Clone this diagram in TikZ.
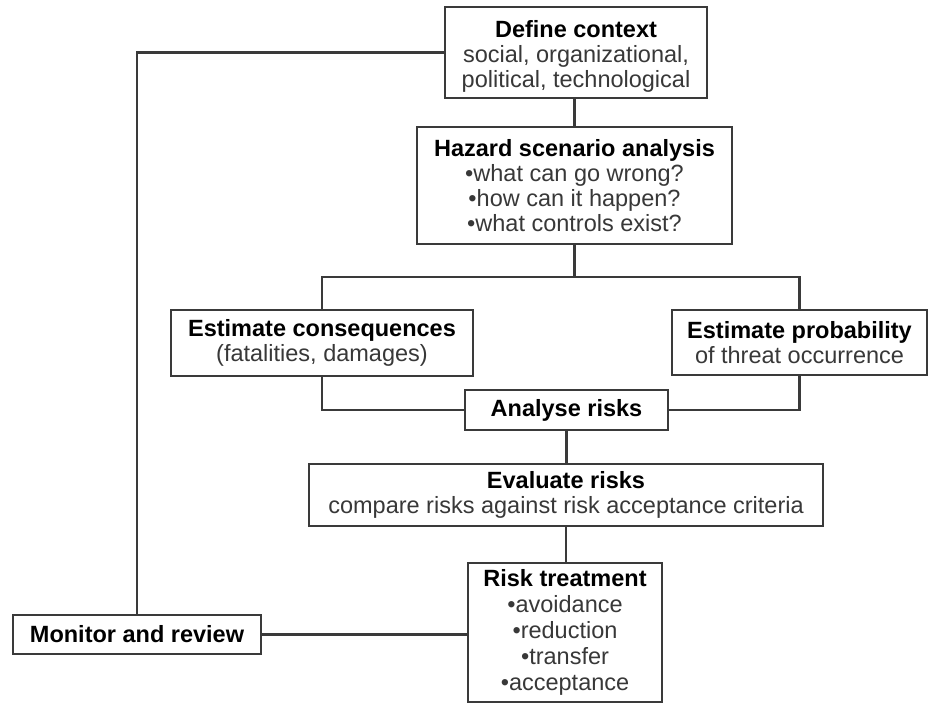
\documentclass[tikz,border=0pt]{standalone}
\usepackage{fontspec}
\setmainfont{Liberation Sans}
\definecolor{linecol}{HTML}{3A3A3A}
\definecolor{bodycol}{HTML}{383838}
\newcommand{\ttl}[1]{{\bfseries\color{black}#1}}
\begin{document}
\begin{tikzpicture}[x=1pt,y=-1pt,
  box/.style={draw=linecol, line width=2.1pt, fill=white, align=center, inner sep=0pt,
    font=\fontsize{23.5}{25}\selectfont, text=bodycol},
  conn/.style={draw=linecol, line width=2.1pt}]
\useasboundingbox (0,0) rectangle (936,704);
\fill[white] (0,0) rectangle (936,704);

\node[box, minimum width=262, minimum height=91] (dc) at (576,52.5)
  {\raisebox{-5pt}[\height][\depth]{\begin{tabular}{@{}c@{}}\ttl{Define context}\\social, organizational,\\political, technological\end{tabular}}};
\node[box, minimum width=315, minimum height=117] (hz) at (574.5,185.5)
  {\ttl{Hazard scenario analysis}\\•what can go wrong?\\•how can it happen?\\•what controls exist?};
\node[box, minimum width=302, minimum height=66] (ec) at (322,343)
  {\ttl{Estimate consequences}\\(fatalities, damages)};
\node[box, minimum width=255, minimum height=65] (ep) at (799.5,342.5)
  {\ttl{Estimate probability}\\of threat occurrence};
\node[box, minimum width=203, minimum height=40] (ar) at (566.5,410)
  {\ttl{Analyse risks}};
\node[box, minimum width=514, minimum height=62] (ev) at (566,495)
  {\ttl{Evaluate risks}\\compare risks against risk acceptance criteria};
\node[box, minimum width=194, minimum height=139,
  font=\fontsize{23.5}{26}\selectfont] (rt) at (565,632.5)
  {\ttl{Risk treatment}\\•avoidance\\•reduction\\•transfer\\•acceptance};
\node[box, minimum width=248, minimum height=39] (mr) at (137,634.5)
  {\ttl{Monitor and review}};

\coordinate (j) at (574.5,277);
\draw[conn] (hz.north |- dc.south) -- (hz.north);
\draw[conn] (hz.south) -- (j);
\draw[conn] (ec.north) |- (j) -| (ep.north);
\draw[conn] (ec.south) |- (ar.west);
\draw[conn] (ep.south) |- (ar.east);
\draw[conn] (ar.south) -- (ar.south |- ev.north);
\draw[conn] (ev.south) -- (ev.south |- rt.north);
\draw[conn] (mr.east) -- (mr.east -| rt.west);
\draw[conn] (dc.west) -| (mr.north);
\end{tikzpicture}
\end{document}
